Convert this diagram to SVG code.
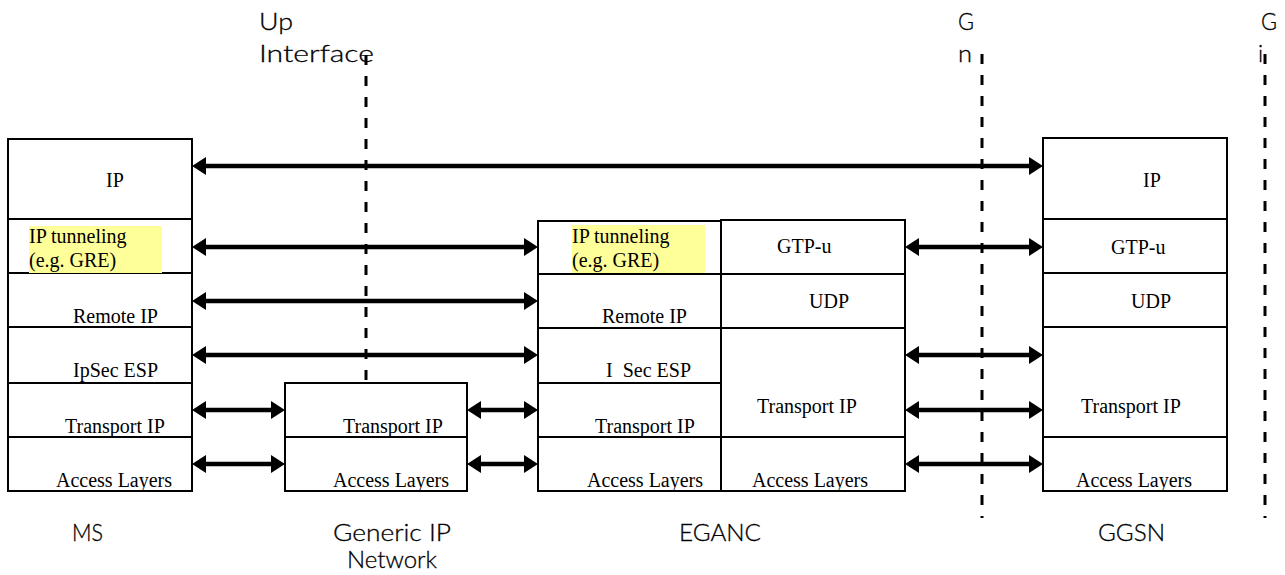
<svg xmlns="http://www.w3.org/2000/svg" width="1285" height="575" viewBox="0 0 1285 575">
<style>
.box{fill:#fff;stroke:#000;stroke-width:2}
.hl{fill:#ffff99;stroke:none}
.lt{font-family:"Liberation Serif","Times New Roman",serif;font-size:20px;fill:#000;white-space:pre}
.nl{font-family:Lato,"DejaVu Sans","Liberation Sans",sans-serif;font-weight:300;font-size:23px;fill:#000;stroke:#000;stroke-width:0.3}
.dash{stroke:#000;stroke-width:3;stroke-dasharray:10 11;fill:none}
.arr{stroke:#000;stroke-width:4.5;fill:none;marker-start:url(#ah);marker-end:url(#ah)}
</style>
<defs>
<marker id="ah" markerUnits="userSpaceOnUse" markerWidth="14" markerHeight="18" viewBox="0 0 14 18" refX="4" refY="9" orient="auto-start-reverse">
<path d="M0,0 L14,9 L0,18 z" fill="#000"/>
</marker>
</defs>
<rect width="1285" height="575" fill="#fff"/>

<g id="ms">
<rect class="box" x="8" y="139" width="184" height="80"/>
<rect class="box" x="8" y="219" width="184" height="54"/>
<rect class="box" x="8" y="273" width="184" height="54"/>
<rect class="box" x="8" y="327" width="184" height="56"/>
<rect class="box" x="8" y="383" width="184" height="54"/>
<rect class="box" x="8" y="437" width="184" height="54"/>
<rect class="hl" x="29" y="226" width="133" height="47"/>
<text class="lt" x="106" y="187">IP</text>
<text class="lt" x="29" y="243">IP tunneling</text>
<text class="lt" x="29" y="267">(e.g. GRE)</text>
<text class="lt" x="73" y="323">Remote IP</text>
<text class="lt" x="73" y="377">IpSec ESP</text>
<text class="lt" x="65" y="433">Transport IP</text>
<text class="lt" x="56" y="487">Access Layers</text>
<text class="nl" x="72" y="541" textLength="31" lengthAdjust="spacingAndGlyphs">MS</text>
</g>

<g id="generic-ip-network">
<rect class="box" x="285" y="383" width="182" height="54"/>
<rect class="box" x="285" y="437" width="182" height="54"/>
<text class="lt" x="343" y="433">Transport IP</text>
<text class="lt" x="333" y="487">Access Layers</text>
<text class="nl" x="333" y="541" textLength="118" lengthAdjust="spacingAndGlyphs">Generic IP</text>
<text class="nl" x="347" y="568" textLength="90" lengthAdjust="spacingAndGlyphs">Network</text>
</g>

<g id="eganc">
<rect class="box" x="538" y="221" width="183" height="53"/>
<rect class="box" x="538" y="274" width="183" height="54"/>
<rect class="box" x="538" y="328" width="183" height="55"/>
<rect class="box" x="538" y="383" width="183" height="54"/>
<rect class="box" x="538" y="437" width="183" height="54"/>
<rect class="box" x="721" y="220" width="184" height="54"/>
<rect class="box" x="721" y="274" width="184" height="54"/>
<rect class="box" x="721" y="328" width="184" height="109"/>
<rect class="box" x="721" y="437" width="184" height="54"/>
<rect class="hl" x="572" y="225" width="133" height="48"/>
<text class="lt" x="572" y="243">IP tunneling</text>
<text class="lt" x="572" y="267">(e.g. GRE)</text>
<text class="lt" x="602" y="323">Remote IP</text>
<text class="lt" x="606" y="377">I  Sec ESP</text>
<text class="lt" x="595" y="433">Transport IP</text>
<text class="lt" x="587" y="487">Access Layers</text>
<text class="lt" x="777" y="253">GTP-u</text>
<text class="lt" x="809" y="308">UDP</text>
<text class="lt" x="757" y="413">Transport IP</text>
<text class="lt" x="752" y="487">Access Layers</text>
<text class="nl" x="679" y="541" textLength="82" lengthAdjust="spacingAndGlyphs">EGANC</text>
</g>

<g id="ggsn">
<rect class="box" x="1043" y="138" width="184" height="81"/>
<rect class="box" x="1043" y="219" width="184" height="54"/>
<rect class="box" x="1043" y="273" width="184" height="54"/>
<rect class="box" x="1043" y="327" width="184" height="110"/>
<rect class="box" x="1043" y="437" width="184" height="54"/>
<text class="lt" x="1143" y="187">IP</text>
<text class="lt" x="1111" y="254">GTP-u</text>
<text class="lt" x="1131" y="308">UDP</text>
<text class="lt" x="1081" y="413">Transport IP</text>
<text class="lt" x="1076" y="487">Access Layers</text>
<text class="nl" x="1098" y="541" textLength="67" lengthAdjust="spacingAndGlyphs">GGSN</text>
</g>

<g id="interfaces">
<line class="dash" x1="366" y1="55" x2="366" y2="389"/>
<line class="dash" x1="982" y1="54" x2="982" y2="518"/>
<line class="dash" x1="1265" y1="54" x2="1265" y2="518"/>
<text class="nl" x="259" y="30" textLength="34" lengthAdjust="spacingAndGlyphs">Up</text>
<text class="nl" x="259" y="62" textLength="115" lengthAdjust="spacingAndGlyphs">Interface</text>
<text class="nl" x="958" y="30" textLength="16" lengthAdjust="spacingAndGlyphs">G</text>
<text class="nl" x="958" y="62" textLength="14" lengthAdjust="spacingAndGlyphs">n</text>
<text class="nl" x="1261" y="30" textLength="16" lengthAdjust="spacingAndGlyphs">G</text>
<text class="nl" x="1258" y="62">i</text>
</g>

<g id="connectors">
<line class="arr" x1="202" y1="166" x2="1033" y2="166"/>
<line class="arr" x1="202" y1="247" x2="528" y2="247"/>
<line class="arr" x1="202" y1="301" x2="528" y2="301"/>
<line class="arr" x1="202" y1="355" x2="528" y2="355"/>
<line class="arr" x1="202" y1="410" x2="275" y2="410"/>
<line class="arr" x1="477" y1="410" x2="528" y2="410"/>
<line class="arr" x1="202" y1="464" x2="275" y2="464"/>
<line class="arr" x1="477" y1="464" x2="528" y2="464"/>
<line class="arr" x1="915" y1="247" x2="1033" y2="247"/>
<line class="arr" x1="915" y1="355" x2="1033" y2="355"/>
<line class="arr" x1="915" y1="410" x2="1033" y2="410"/>
<line class="arr" x1="915" y1="464" x2="1033" y2="464"/>
</g>
</svg>
